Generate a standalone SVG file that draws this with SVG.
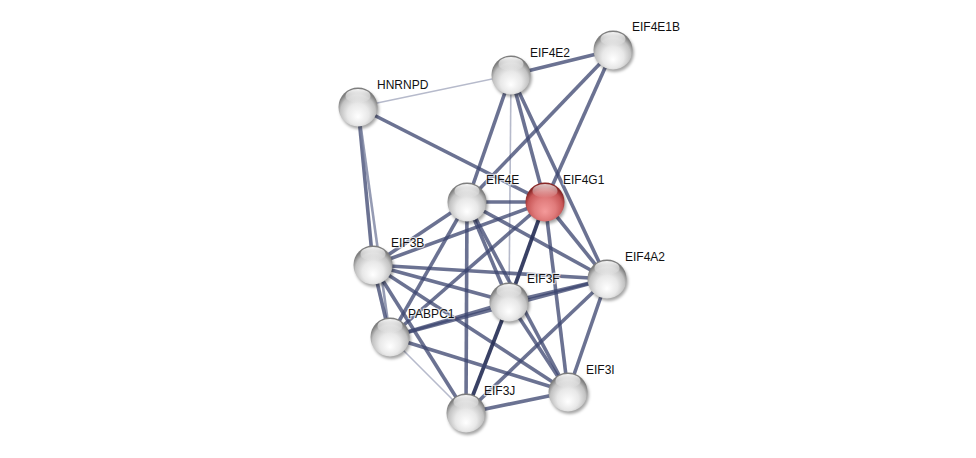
<svg xmlns="http://www.w3.org/2000/svg" width="976" height="458" viewBox="0 0 976 458">
<style>
.e{stroke:#3c4670;stroke-opacity:0.76;stroke-width:3.6;stroke-linecap:butt;fill:none}
.d{stroke:#283158;stroke-opacity:0.92;stroke-width:3.8}
.l{stroke:#a9aec2;stroke-opacity:0.85;stroke-width:1.6}
.m{stroke:#7a82a0;stroke-opacity:0.8;stroke-width:2.6}
.lbl{font-family:"Liberation Sans",Arial,sans-serif;font-size:12px;fill:#111;stroke:#fff;stroke-width:2.5px;stroke-opacity:0.7;paint-order:stroke;stroke-linejoin:round}
</style>
<defs>
<radialGradient id="gw" cx="50%" cy="62%" r="55%" fx="50%" fy="75%">
<stop offset="0" stop-color="#ffffff"/>
<stop offset="0.5" stop-color="#e8e8e8"/>
<stop offset="0.82" stop-color="#c2c2c2"/>
<stop offset="1" stop-color="#7e7e7e"/>
</radialGradient>
<radialGradient id="gr" cx="50%" cy="62%" r="55%" fx="50%" fy="75%">
<stop offset="0" stop-color="#f49a9a"/>
<stop offset="0.5" stop-color="#e07b7b"/>
<stop offset="0.82" stop-color="#c85757"/>
<stop offset="1" stop-color="#882626"/>
</radialGradient>
<linearGradient id="hl" x1="0" y1="0" x2="0" y2="1">
<stop offset="0" stop-color="#ffffff" stop-opacity="0.95"/>
<stop offset="1" stop-color="#ffffff" stop-opacity="0"/>
</linearGradient>
<filter id="sh" x="-50%" y="-50%" width="200%" height="200%">
<feGaussianBlur stdDeviation="1.6"/>
</filter>
<g id="nw">
<circle cx="1.5" cy="2.5" r="19.5" fill="#000" fill-opacity="0.35" filter="url(#sh)"/>
<circle r="19.5" fill="url(#gw)"/>
<ellipse cx="0" cy="-11" rx="12.5" ry="7" fill="url(#hl)"/>
</g>
<g id="nr">
<circle cx="1.5" cy="2.5" r="19.5" fill="#000" fill-opacity="0.35" filter="url(#sh)"/>
<circle r="19.5" fill="url(#gr)"/>
<ellipse cx="0" cy="-11" rx="12.5" ry="7" fill="url(#hl)" opacity="0.8"/>
</g>
</defs>
<rect width="976" height="458" fill="#ffffff"/>
<g id="edges">
<line class="e l" x1="358" y1="107" x2="511" y2="75"/>
<line class="e" x1="358" y1="107" x2="545" y2="202"/>
<line class="e" x1="358" y1="107" x2="373" y2="265"/>
<line class="e m" x1="358" y1="107" x2="390" y2="337"/>
<line class="e" x1="511" y1="75" x2="613" y2="50"/>
<line class="e" x1="511" y1="75" x2="467" y2="202"/>
<line class="e l" x1="511" y1="75" x2="509" y2="302"/>
<line class="e" x1="511" y1="75" x2="545" y2="202"/>
<line class="e" x1="511" y1="75" x2="607" y2="279"/>
<line class="e" x1="613" y1="50" x2="467" y2="202"/>
<line class="e" x1="613" y1="50" x2="545" y2="202"/>
<line class="e" x1="467" y1="202" x2="545" y2="202"/>
<line class="e" x1="467" y1="202" x2="373" y2="265"/>
<line class="e" x1="467" y1="202" x2="390" y2="337"/>
<line class="e" x1="467" y1="202" x2="466" y2="413"/>
<line class="e" x1="467" y1="202" x2="509" y2="302"/>
<line class="e" x1="467" y1="202" x2="607" y2="279"/>
<line class="e" x1="467" y1="202" x2="568" y2="392"/>
<line class="e" x1="545" y1="202" x2="373" y2="265"/>
<line class="e" x1="545" y1="202" x2="390" y2="337"/>
<line class="e d" x1="545" y1="202" x2="509" y2="302"/>
<line class="e" x1="545" y1="202" x2="607" y2="279"/>
<line class="e" x1="545" y1="202" x2="568" y2="392"/>
<line class="e" x1="373" y1="265" x2="607" y2="279"/>
<line class="e" x1="373" y1="265" x2="509" y2="302"/>
<line class="e" x1="373" y1="265" x2="568" y2="392"/>
<line class="e" x1="373" y1="265" x2="466" y2="413"/>
<line class="e" x1="373" y1="265" x2="390" y2="337"/>
<line class="e" x1="607" y1="279" x2="509" y2="302"/>
<line class="e" x1="607" y1="279" x2="390" y2="337"/>
<line class="e" x1="607" y1="279" x2="568" y2="392"/>
<line class="e" x1="607" y1="279" x2="466" y2="413"/>
<line class="e" x1="509" y1="302" x2="390" y2="337"/>
<line class="e" x1="509" y1="302" x2="568" y2="392"/>
<line class="e d" x1="509" y1="302" x2="466" y2="413"/>
<line class="e" x1="390" y1="337" x2="568" y2="392"/>
<line class="e l" x1="390" y1="337" x2="466" y2="413"/>
<line class="e" x1="568" y1="392" x2="466" y2="413"/>
</g>
<g id="n-HNRNPD"><use href="#nw" x="358" y="107"/><text class="lbl" x="377" y="89">HNRNPD</text></g>
<g id="n-EIF4E2"><use href="#nw" x="511" y="75"/><text class="lbl" x="530" y="57">EIF4E2</text></g>
<g id="n-EIF4E1B"><use href="#nw" x="613" y="50"/><text class="lbl" x="632" y="31">EIF4E1B</text></g>
<g id="n-EIF4E"><use href="#nw" x="467" y="202"/><text class="lbl" x="486" y="184">EIF4E</text></g>
<g id="n-EIF4G1"><use href="#nr" x="545" y="202"/><text class="lbl" x="563" y="184">EIF4G1</text></g>
<g id="n-EIF3B"><use href="#nw" x="373" y="265"/><text class="lbl" x="391" y="247">EIF3B</text></g>
<g id="n-EIF4A2"><use href="#nw" x="607" y="279"/><text class="lbl" x="625" y="261">EIF4A2</text></g>
<g id="n-EIF3F"><use href="#nw" x="509" y="302"/><text class="lbl" x="527" y="283">EIF3F</text></g>
<g id="n-PABPC1"><use href="#nw" x="390" y="337"/><text class="lbl" x="408" y="318">PABPC1</text></g>
<g id="n-EIF3I"><use href="#nw" x="568" y="392"/><text class="lbl" x="586" y="374">EIF3I</text></g>
<g id="n-EIF3J"><use href="#nw" x="466" y="413"/><text class="lbl" x="484" y="395">EIF3J</text></g>
</svg>
